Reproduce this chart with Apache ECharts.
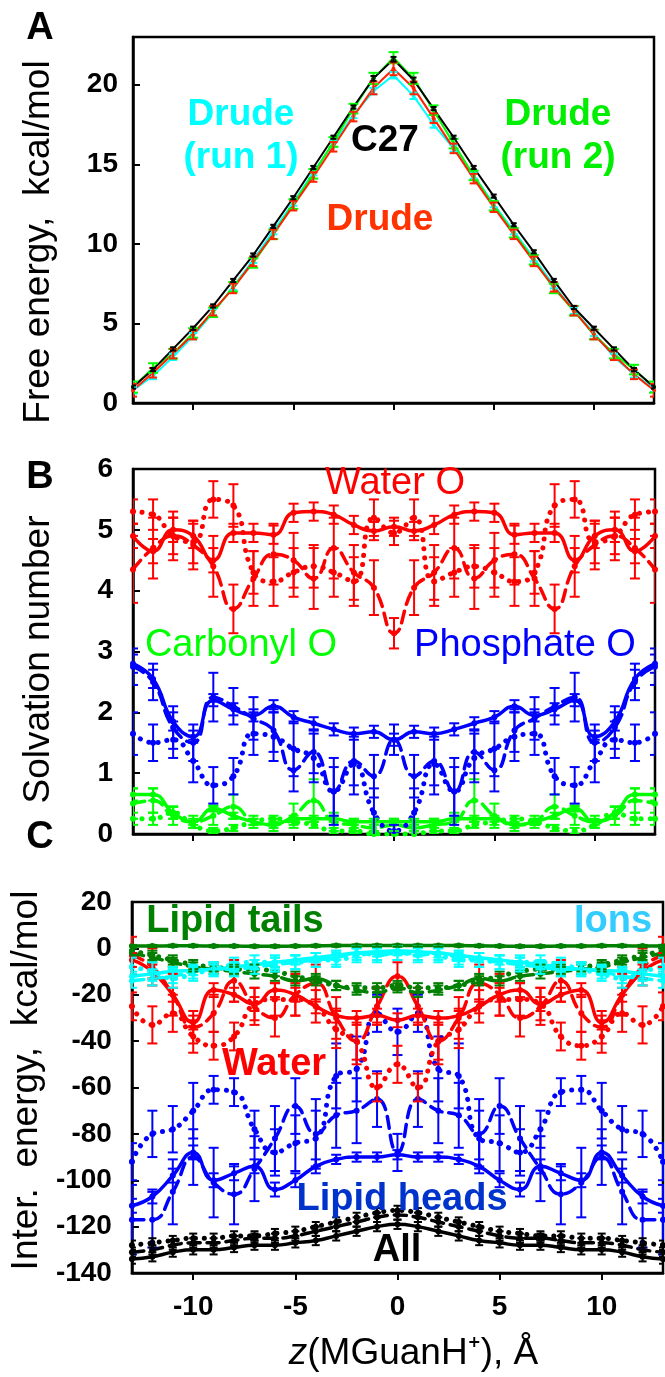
<!DOCTYPE html>
<html>
<head>
<meta charset="utf-8">
<script src="https://cdn.jsdelivr.net/npm/echarts@6/dist/echarts.min.js"></script>
<style>
  html, body { margin: 0; padding: 0; background: #fff; }
  #main { width: 665px; height: 1377px; }
</style>
</head>
<body>
<div id="main"></div>
<script>
// positions along the membrane normal, A
var zVals = [-13,-12,-11,-10,-9,-8,-7,-6,-5,-4,-3,-2,-1,0,1,2,3,4,5,6,7,8,9,10,11,12,13];
var zTicks = [-10, -5, 0, 5, 10];
var yTicksA = [0, 5, 10, 15, 20];

// panel A: free energy, kcal/mol
var feC27 = [1.0,2.1,3.4,4.7,6.1,7.7,9.3,11.1,12.9,14.8,16.7,18.6,20.4,21.6,20.3,18.5,16.7,14.8,13.0,11.2,9.5,7.7,6.0,4.7,3.4,2.1,1.0];
var feC27Err = [0.1,0.1,0.1,0.1,0.1,0.1,0.1,0.1,0.1,0.1,0.1,0.1,0.15,0.15,0.15,0.1,0.1,0.1,0.1,0.1,0.1,0.1,0.1,0.1,0.1,0.1,0.1];
var feDrude = [0.8,1.9,3.1,4.3,5.8,7.2,8.9,10.6,12.4,14.2,16.1,18.0,19.8,21.0,19.8,17.9,16.0,14.1,12.3,10.6,8.9,7.3,5.8,4.3,3.0,1.8,0.8];
var feDrudeErr = [0.4,0.3,0.3,0.3,0.3,0.3,0.3,0.3,0.3,0.3,0.3,0.3,0.4,0.4,0.4,0.3,0.3,0.3,0.3,0.3,0.3,0.3,0.3,0.3,0.3,0.3,0.4];
var feRun1 = [0.8,1.7,2.9,4.2,5.7,7.3,9.0,10.8,12.6,14.5,16.3,18.1,19.6,20.6,19.3,17.5,16.0,14.3,12.5,10.8,9.1,7.4,5.8,4.4,2.9,1.8,0.9];
var feRun1Err = [0.2,0.2,0.2,0.2,0.2,0.2,0.2,0.2,0.2,0.2,0.2,0.2,0.2,0.2,0.2,0.2,0.2,0.2,0.2,0.2,0.2,0.2,0.2,0.2,0.2,0.2,0.2];
var feRun2 = [1.0,2.2,3.1,4.4,5.7,7.3,8.8,10.6,12.5,14.4,16.4,18.5,20.4,21.7,20.4,18.4,16.3,14.3,12.4,10.7,9.0,7.2,5.8,4.3,3.1,2.1,1.0];
var feRun2Err = [0.35,0.3,0.3,0.3,0.3,0.3,0.3,0.3,0.3,0.3,0.3,0.3,0.35,0.35,0.35,0.3,0.3,0.3,0.3,0.3,0.3,0.3,0.3,0.3,0.3,0.3,0.35];

// panel B: solvation numbers (solid / dashed / dotted)
var waterSolid = [4.9,4.65,5.0,4.9,4.5,4.95,4.95,4.92,5.28,5.3,5.25,5.08,4.98,5.05,4.98,5.08,5.25,5.3,5.28,4.92,4.95,4.95,4.5,4.9,5.0,4.65,4.9];
var waterSolidErr = [0.2,0.2,0.2,0.2,0.2,0.15,0.15,0.15,0.15,0.15,0.15,0.15,0.15,0.15,0.15,0.15,0.15,0.15,0.15,0.15,0.15,0.15,0.2,0.2,0.2,0.2,0.2];
var waterDashed = [4.35,4.7,4.9,4.75,4.4,3.7,4.2,4.6,4.5,4.2,4.7,4.3,4.05,3.3,4.05,4.3,4.7,4.2,4.5,4.6,4.2,3.7,4.4,4.75,4.9,4.7,4.35];
var waterDashedErr = [0.55,0.5,0.4,0.4,0.5,0.4,0.45,0.5,0.45,0.5,0.5,0.45,0.45,0.25,0.45,0.45,0.5,0.5,0.45,0.5,0.45,0.4,0.5,0.4,0.4,0.5,0.55];
var waterDotted = [5.3,5.25,4.9,4.8,5.5,5.4,4.3,4.15,4.3,4.4,4.3,4.15,5.2,4.95,5.2,4.15,4.3,4.4,4.3,4.15,4.3,5.4,5.5,4.8,4.9,5.25,5.3];
var waterDottedErr = [0.2,0.25,0.3,0.35,0.3,0.35,0.35,0.4,0.4,0.35,0.4,0.4,0.3,0.2,0.3,0.4,0.4,0.35,0.4,0.4,0.35,0.35,0.3,0.35,0.3,0.25,0.2];
var phosSolid = [2.8,2.55,1.85,1.6,2.2,2.05,1.95,2.1,1.92,1.82,1.72,1.65,1.68,1.55,1.68,1.65,1.72,1.82,1.92,2.1,1.95,2.05,2.2,1.6,1.85,2.55,2.8];
var phosSolidErr = [0.15,0.15,0.15,0.1,0.1,0.1,0.1,0.1,0.1,0.1,0.1,0.1,0.1,0.1,0.1,0.1,0.1,0.1,0.1,0.1,0.1,0.1,0.1,0.1,0.15,0.15,0.15];
var phosDashed = [2.75,2.5,1.75,1.5,2.25,2.1,1.9,1.7,1.05,1.35,0.7,1.2,0.95,1.55,0.95,1.2,0.7,1.35,1.05,1.7,1.9,2.1,2.25,1.5,1.75,2.5,2.75];
var phosDashedErr = [0.3,0.3,0.35,0.3,0.4,0.3,0.35,0.35,0.35,0.35,0.4,0.4,0.35,0.25,0.35,0.4,0.4,0.35,0.35,0.35,0.35,0.3,0.4,0.3,0.35,0.3,0.3];
var phosDotted = [1.65,1.5,1.55,1.2,0.8,0.95,1.65,1.6,1.4,1.25,0.7,1.15,0.35,0.05,0.35,1.15,0.7,1.25,1.4,1.6,1.65,0.95,0.8,1.2,1.55,1.5,1.65];
var phosDottedErr = [0.35,0.3,0.3,0.35,0.3,0.3,0.35,0.4,0.45,0.4,0.55,0.5,0.4,0.1,0.4,0.5,0.55,0.4,0.45,0.4,0.35,0.3,0.3,0.35,0.3,0.3,0.35];
var carbSolid = [0.65,0.65,0.35,0.2,0.42,0.3,0.2,0.15,0.25,0.25,0.25,0.2,0.2,0.2,0.2,0.2,0.25,0.25,0.25,0.15,0.2,0.3,0.42,0.2,0.35,0.65,0.65];
var carbSolidErr = [0.1,0.1,0.1,0.05,0.05,0.05,0.05,0.05,0.05,0.05,0.05,0.05,0.05,0.05,0.05,0.05,0.05,0.05,0.05,0.05,0.05,0.05,0.05,0.05,0.1,0.1,0.1];
var carbDashed = [0.5,0.55,0.3,0.2,0.3,0.45,0.2,0.15,0.3,0.55,0.2,0.15,0.1,0.15,0.1,0.15,0.2,0.55,0.3,0.15,0.2,0.45,0.3,0.2,0.3,0.55,0.5];
var carbDashedErr = [0.25,0.2,0.15,0.1,0.15,0.2,0.1,0.1,0.2,0.35,0.15,0.1,0.1,0.1,0.1,0.1,0.15,0.35,0.2,0.1,0.1,0.2,0.15,0.1,0.15,0.2,0.25];
var carbDotted = [0.25,0.25,0.35,0.15,0.05,0.1,0.2,0.25,0.2,0.15,0.05,0.05,0.0,0.0,0.0,0.05,0.05,0.15,0.2,0.25,0.2,0.1,0.05,0.15,0.35,0.25,0.25];
var carbDottedErr = [0.1,0.1,0.1,0.05,0.05,0.05,0.05,0.05,0.05,0.05,0.05,0.05,0.05,0.05,0.05,0.05,0.05,0.05,0.05,0.05,0.05,0.05,0.05,0.05,0.1,0.1,0.1];

// panel C: interaction energies, kcal/mol
var tailsSolid = [1.0,1.0,1.1,1.1,1.0,1.0,0.9,0.9,1.0,1.1,1.2,1.2,1.2,1.2,1.2,1.2,1.2,1.1,1.0,0.9,0.9,1.0,1.0,1.1,1.1,1.0,1.0];
var tailsSolidErr = [0.5,0.5,0.5,0.5,0.5,0.5,0.5,0.5,0.5,0.5,0.5,0.5,0.5,0.5,0.5,0.5,0.5,0.5,0.5,0.5,0.5,0.5,0.5,0.5,0.5,0.5,0.5];
var tailsDashed = [-2,-4,-6,-8,-9,-10,-11,-12,-14,-13,-16,-18,-19,-17,-19,-18,-16,-13,-14,-12,-11,-10,-9,-8,-6,-4,-2];
var tailsDashedErr = [2,2,2,2,2,2,2,2,2,2,2,2,2,2,2,2,2,2,2,2,2,2,2,2,2,2,2];
var tailsDotted = [-1,-3,-5,-7,-8,-9,-9,-10,-12,-14,-16,-17,-17,-16,-17,-17,-16,-14,-12,-10,-9,-9,-8,-7,-5,-3,-1];
var tailsDottedErr = [2,2,2,2,2,2,2,2,2,2,2,2,2,2,2,2,2,2,2,2,2,2,2,2,2,2,2];
var ionsSolid = [-12,-11,-10,-9.5,-9,-8,-7,-6,-5,-4,-3,-2,-1.5,-1,-1.5,-2,-3,-4,-5,-6,-7,-8,-9,-9.5,-10,-11,-12];
var ionsSolidErr = [2,2,2,2,2,2,2,2,2,2,2,2,2,2,2,2,2,2,2,2,2,2,2,2,2,2,2];
var ionsDashed = [-14,-13,-12,-10,-9,-9,-8,-7,-6,-5,-4,-2,-3,-2,-3,-2,-4,-5,-6,-7,-8,-9,-9,-10,-12,-13,-14];
var ionsDashedErr = [3,3,3,3,3,3,3,3,3,3,3,3,3,3,3,3,3,3,3,3,3,3,3,3,3,3,3];
var ionsDotted = [-8,-10,-13,-11,-9,-7,-6,-6,-6,-5,-5,-3,-2,-2,-2,-3,-5,-5,-6,-6,-6,-7,-9,-11,-13,-10,-8];
var ionsDottedErr = [4,4,4,3,3,3,3,3,3,3,3,3,3,3,3,3,3,3,3,3,3,3,3,3,4,4,4];
var watCSolid = [-5,-10,-20,-32,-18,-20,-24,-18,-20,-25,-29,-30,-29,-31,-29,-30,-29,-25,-20,-18,-24,-20,-18,-32,-20,-10,-5];
var watCSolidErr = [3,3,3,3,3,3,3,3,3,3,3,3,3,3,3,3,3,3,3,3,3,3,3,3,3,3,3];
var watCDashed = [-3,-8,-20,-34,-28,-14,-25,-30,-20,-15,-30,-40,-25,-12,-25,-40,-30,-15,-20,-30,-25,-14,-28,-34,-20,-8,-3];
var watCDashedErr = [8,8,9,7,8,9,8,8,9,8,9,10,8,6,8,10,9,8,9,8,8,9,8,7,9,8,8];
var watCDotted = [-25,-33,-28,-38,-42,-38,-24,-22,-22,-25,-35,-40,-60,-50,-60,-40,-35,-25,-22,-22,-24,-38,-42,-38,-28,-33,-25];
var watCDottedErr = [6,8,8,7,6,6,7,7,7,7,8,8,6,8,6,8,8,7,7,7,7,6,6,7,8,8,6];
var headsSolid = [-111,-107,-98,-88,-100,-97,-94,-104,-100,-94,-91,-90,-90,-89,-90,-90,-91,-94,-100,-104,-94,-97,-100,-88,-98,-107,-111];
var headsSolidErr = [3,3,3,3,3,3,3,3,3,3,2,2,2,2,2,2,2,3,3,3,3,3,3,3,3,3,3];
var headsDashed = [-117,-117,-105,-90,-101,-106,-95,-82,-68,-80,-72,-70,-65,-88,-65,-70,-72,-80,-68,-82,-95,-106,-101,-90,-105,-117,-117];
var headsDashedErr = [15,12,14,12,15,13,14,14,12,15,14,14,12,8,12,14,14,15,12,14,14,13,15,12,14,12,15];
var headsDotted = [-92,-80,-78,-70,-61,-62,-78,-88,-84,-82,-55,-52,-28,-36,-28,-52,-55,-82,-84,-88,-78,-62,-61,-70,-78,-80,-92];
var headsDottedErr = [8,10,10,12,6,6,8,10,12,12,14,14,8,10,8,14,14,12,12,10,8,6,6,12,10,10,8];
var allSolid = [-134,-133,-131,-130,-130,-129,-128,-128,-127,-126,-124,-122,-120,-119,-120,-122,-124,-126,-127,-128,-128,-129,-130,-130,-131,-133,-134];
var allSolidErr = [2,2,2,2,2,2,2,2,2,2,2,2,2,2,2,2,2,2,2,2,2,2,2,2,2,2,2];
var allDashed = [-131,-130,-128,-127,-127,-126,-125,-125,-124,-122,-120,-118,-116,-115,-116,-118,-120,-122,-124,-125,-125,-126,-127,-127,-128,-130,-131];
var allDashedErr = [2,2,2,2,2,2,2,2,2,2,2,2,2,2,2,2,2,2,2,2,2,2,2,2,2,2,2];
var allDotted = [-128,-127,-126,-125,-125,-124,-124,-123,-122,-120,-118,-116,-114,-113,-114,-116,-118,-120,-122,-123,-124,-124,-125,-125,-126,-127,-128];
var allDottedErr = [2,2,2,2,2,2,2,2,2,2,2,2,2,2,2,2,2,2,2,2,2,2,2,2,2,2,2];

var FONT = '"Liberation Sans", Arial, sans-serif';
var DASHED = [12, 7];
var DOTTED = [0.1, 9];

// 曲线
function lineSeries(vals, color, gi, type, width, smooth) {
  return {
    type: 'line',
    xAxisIndex: gi, yAxisIndex: gi,
    data: zVals.map(function (x, i) { return [x, vals[i]]; }),
    smooth: smooth,
    symbol: 'circle', symbolSize: gi === 0 ? 4 : 6,
    itemStyle: { color: color },
    lineStyle: { color: color, width: width, type: type, cap: 'round' },
    z: 2
  };
}

// 误差棒
function errSeries(vals, errs, color, gi, cap) {
  return {
    type: 'custom',
    xAxisIndex: gi, yAxisIndex: gi,
    data: zVals.map(function (x, i) { return [x, vals[i] - errs[i], vals[i] + errs[i]]; }),
    encode: { x: 0, y: [1, 2] },
    clip: true,
    silent: true,
    z: 3,
    renderItem: function (params, api) {
      var lo = api.coord([api.value(0), api.value(1)]);
      var hi = api.coord([api.value(0), api.value(2)]);
      var st = { stroke: color, lineWidth: 2 };
      return {
        type: 'group',
        children: [
          { type: 'line', shape: { x1: lo[0], y1: lo[1], x2: hi[0], y2: hi[1] }, style: st },
          { type: 'line', shape: { x1: lo[0] - cap, y1: lo[1], x2: lo[0] + cap, y2: lo[1] }, style: st },
          { type: 'line', shape: { x1: hi[0] - cap, y1: hi[1], x2: hi[0] + cap, y2: hi[1] }, style: st }
        ]
      };
    }
  };
}

function withErr(list, vals, errs, color, gi, type, width, smooth, cap) {
  list.push(lineSeries(vals, color, gi, type, width, smooth));
  list.push(errSeries(vals, errs, color, gi, cap));
}

var series = [];
// A
withErr(series, feRun1, feRun1Err, '#00FFFF', 0, 'solid', 2, false, 4);
withErr(series, feRun2, feRun2Err, '#00FF00', 0, 'solid', 2, false, 5);
withErr(series, feDrude, feDrudeErr, '#FF2200', 0, 'solid', 2, false, 4);
withErr(series, feC27, feC27Err, '#000000', 0, 'solid', 2, false, 3);
// B
withErr(series, carbDotted, carbDottedErr, '#00FF00', 1, DOTTED, 5, true, 5);
withErr(series, carbDashed, carbDashedErr, '#00FF00', 1, DASHED, 3.5, true, 5);
withErr(series, carbSolid, carbSolidErr, '#00FF00', 1, 'solid', 3.5, true, 5);
withErr(series, phosDotted, phosDottedErr, '#0000FF', 1, DOTTED, 5, true, 5);
withErr(series, phosDashed, phosDashedErr, '#0000FF', 1, DASHED, 3.5, true, 5);
withErr(series, phosSolid, phosSolidErr, '#0000FF', 1, 'solid', 3.5, true, 5);
withErr(series, waterDotted, waterDottedErr, '#FF0000', 1, DOTTED, 5, true, 5);
withErr(series, waterDashed, waterDashedErr, '#FF0000', 1, DASHED, 3.5, true, 5);
withErr(series, waterSolid, waterSolidErr, '#FF0000', 1, 'solid', 3.5, true, 5);
// C
withErr(series, headsDotted, headsDottedErr, '#0000FF', 2, DOTTED, 5, true, 5);
withErr(series, headsDashed, headsDashedErr, '#0000FF', 2, DASHED, 3.5, true, 5);
withErr(series, headsSolid, headsSolidErr, '#0000FF', 2, 'solid', 3.5, true, 5);
withErr(series, watCDotted, watCDottedErr, '#FF0000', 2, DOTTED, 5, true, 5);
withErr(series, watCDashed, watCDashedErr, '#FF0000', 2, DASHED, 3.5, true, 5);
withErr(series, watCSolid, watCSolidErr, '#FF0000', 2, 'solid', 3.5, true, 5);
withErr(series, tailsDotted, tailsDottedErr, '#008000', 2, DOTTED, 5, true, 5);
withErr(series, tailsDashed, tailsDashedErr, '#008000', 2, DASHED, 3.5, true, 5);
withErr(series, ionsDotted, ionsDottedErr, '#00FFFF', 2, DOTTED, 5, true, 5);
withErr(series, ionsDashed, ionsDashedErr, '#00FFFF', 2, DASHED, 3.5, true, 5);
withErr(series, ionsSolid, ionsSolidErr, '#00FFFF', 2, 'solid', 3.5, true, 5);
withErr(series, tailsSolid, tailsSolidErr, '#008000', 2, 'solid', 3.5, true, 5);
withErr(series, allDotted, allDottedErr, '#000000', 2, DOTTED, 5, true, 4);
withErr(series, allDashed, allDashedErr, '#000000', 2, DASHED, 3.5, true, 4);
withErr(series, allSolid, allSolidErr, '#000000', 2, 'solid', 3.5, true, 4);

var tickLabel = { color: '#000', fontFamily: FONT, fontWeight: 'bold', fontSize: 28 };
var nameStyle = { color: '#000', fontFamily: FONT, fontSize: 37 };

function xAx(gi, withLabels) {
  var ax = {
    type: 'value', gridIndex: gi, min: -13, max: 13,
    axisLine: { onZero: false, lineStyle: { color: '#000', width: 2.5 } },
    axisTick: { show: true, inside: false, length: 7, customValues: zTicks, lineStyle: { color: '#000', width: 2 } },
    axisLabel: Object.assign({ show: withLabels, customValues: zTicks, margin: 20 }, tickLabel),
    splitLine: { show: false }
  };
  if (withLabels) {
    ax.name = '{it|z}(MGuanH⁺), Å';
    ax.nameLocation = 'middle';
    ax.nameGap = 62;
    ax.nameTextStyle = {
      color: '#000', fontFamily: FONT, fontSize: 37, padding: [0, 0, 0, 32],
      rich: { it: { fontFamily: FONT, fontSize: 37, fontStyle: 'italic', color: '#000' } }
    };
  }
  return ax;
}

function yAx(gi, min, max, interval, name, margin, pad) {
  var ax = {
    type: 'value', gridIndex: gi, min: min, max: max,
    name: name, nameLocation: 'middle', nameGap: 76,
    nameTextStyle: Object.assign({ padding: pad }, nameStyle),
    axisLine: { onZero: false, lineStyle: { color: '#000', width: 2.5 } },
    axisTick: { show: true, inside: true, length: 7, lineStyle: { color: '#000', width: 2 } },
    axisLabel: Object.assign({ margin: margin }, tickLabel),
    splitLine: { show: false }
  };
  if (interval) ax.interval = interval;
  else {
    ax.axisTick.customValues = yTicksA;
    ax.axisLabel.customValues = yTicksA;
  }
  return ax;
}

var option = {
  animation: false,
  backgroundColor: '#fff',
  grid: [
    { left: 133, width: 521, top: 37, height: 366, show: true, borderColor: '#000', borderWidth: 2.5 },
    { left: 133, width: 522, top: 469, height: 365, show: true, borderColor: '#000', borderWidth: 2.5 },
    { left: 130, width: 533, top: 902, height: 371, show: true, borderColor: '#000', borderWidth: 2.5 }
  ],
  xAxis: [xAx(0, false), xAx(1, false), xAx(2, true)],
  yAxis: [
    yAx(0, 0, 23, null, 'Free energy,  kcal/mol', 15, [0, 44, 0, 0]),
    yAx(1, 0, 6, 1, 'Solvation number', 20, [0, 16, 0, 0]),
    yAx(2, -140, 20, 20, 'Inter.  energy,  kcal/mol', 20, [0, 0, 0, 14])
  ],
  series: series,
  graphic: [
    // panel letters
    { type: 'text', x: 40, y: 29, style: { text: 'A', font: 'bold 38px ' + FONT, fill: '#000', textAlign: 'center', textVerticalAlign: 'middle' } },
    { type: 'text', x: 40, y: 478, style: { text: 'B', font: 'bold 38px ' + FONT, fill: '#000', textAlign: 'center', textVerticalAlign: 'middle' } },
    { type: 'text', x: 40, y: 838, style: { text: 'C', font: 'bold 38px ' + FONT, fill: '#000', textAlign: 'center', textVerticalAlign: 'middle' } },
    // A
    { type: 'text', x: 241, y: 136, z: 10, style: { text: 'Drude\n(run 1)', font: 'bold 37px ' + FONT, lineHeight: 43, fill: '#00FFFF', textAlign: 'center', textVerticalAlign: 'middle' } },
    { type: 'text', x: 558, y: 136, z: 10, style: { text: 'Drude\n(run 2)', font: 'bold 37px ' + FONT, lineHeight: 43, fill: '#00EE00', textAlign: 'center', textVerticalAlign: 'middle' } },
    { type: 'text', x: 385, y: 141, z: 10, style: { text: 'C27', font: 'bold 37px ' + FONT, fill: '#000', textAlign: 'center', textVerticalAlign: 'middle' } },
    { type: 'text', x: 380, y: 220, z: 10, style: { text: 'Drude', font: 'bold 37px ' + FONT, fill: '#FF3300', textAlign: 'center', textVerticalAlign: 'middle' } },
    // B
    { type: 'text', x: 395, y: 484, z: 10, style: { text: 'Water O', font: '38px ' + FONT, fill: '#FF0000', textAlign: 'center', textVerticalAlign: 'middle' } },
    { type: 'text', x: 241, y: 646, z: 10, style: { text: 'Carbonyl O', font: '38px ' + FONT, fill: '#00FF00', textAlign: 'center', textVerticalAlign: 'middle' } },
    { type: 'text', x: 525, y: 646, z: 10, style: { text: 'Phosphate O', font: '38px ' + FONT, fill: '#0000FF', textAlign: 'center', textVerticalAlign: 'middle' } },
    // C
    { type: 'text', x: 235, y: 922, z: 10, style: { text: 'Lipid tails', font: 'bold 38px ' + FONT, fill: '#008000', textAlign: 'center', textVerticalAlign: 'middle' } },
    { type: 'text', x: 613, y: 922, z: 10, style: { text: 'Ions', font: 'bold 38px ' + FONT, fill: '#33CCFF', textAlign: 'center', textVerticalAlign: 'middle' } },
    { type: 'text', x: 274, y: 1065, z: 10, style: { text: 'Water', font: 'bold 38px ' + FONT, fill: '#FF0000', textAlign: 'center', textVerticalAlign: 'middle' } },
    { type: 'text', x: 402, y: 1200, z: 10, style: { text: 'Lipid heads', font: 'bold 38px ' + FONT, fill: '#0033CC', textAlign: 'center', textVerticalAlign: 'middle' } },
    { type: 'text', x: 397, y: 1251, z: 10, style: { text: 'All', font: 'bold 38px ' + FONT, fill: '#000', textAlign: 'center', textVerticalAlign: 'middle' } }
  ]
};

var myChart = echarts.init(document.getElementById('main'));
myChart.setOption(option);
</script>
</body>
</html>
